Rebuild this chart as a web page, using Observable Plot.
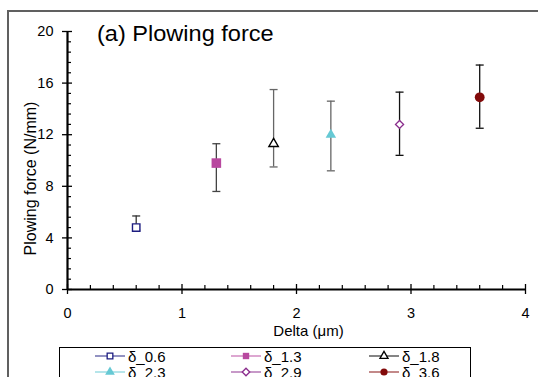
<!DOCTYPE html>
<html>
<head>
<meta charset="utf-8">
<script src="https://cdn.jsdelivr.net/npm/d3@7"></script>
<script src="https://cdn.jsdelivr.net/npm/@observablehq/plot@0.6"></script>
<style>
  html, body { margin: 0; padding: 0; background: #fff; }
  #wrap { position: relative; width: 538px; height: 377px; overflow: hidden; font-family: "Liberation Sans", Arial, sans-serif; }
  #frame { position: absolute; left: 7px; top: 10px; width: 600px; height: 500px; border-top: 2px solid #606060; border-left: 2px solid #606060; box-sizing: border-box; }
  #title { position: absolute; left: 97px; top: 21px; font-size: 22px; color: #000; white-space: nowrap; transform-origin: 0 0; transform: scaleX(1.07); }
  #chart { position: absolute; left: 0; top: 0; }
  #legend { position: absolute; left: 59px; top: 347px; width: 412px; height: 60px; border: 1px solid #000; box-sizing: border-box; background: #fff; }
  .item { position: absolute; display: flex; align-items: center; font-size: 15px; white-space: nowrap; }
  .item svg { margin-right: 3px; }
</style>
</head>
<body>
<div id="wrap">
  <div id="frame"></div>
  <div id="chart"></div>
  <div id="title">(a) Plowing force</div>
  <div id="legend"></div>
</div>
<script>
// ---- data ----
const series = ["δ_0.6", "δ_1.3", "δ_1.8", "δ_2.3", "δ_2.9", "δ_3.6"];
const delta = [0.6, 1.3, 1.8, 2.3, 2.9, 3.6];
const force = [4.8, 9.8, 11.3, 12.0, 12.8, 14.9];
const errLow = [4.6, 7.6, 9.5, 9.2, 10.4, 12.5];
const errHigh = [5.7, 11.3, 15.5, 14.6, 15.3, 17.4];
const yTicks = [0, 4, 8, 12, 16, 20];
const xTicks = [0, 1, 2, 3, 4];
const yLabel = "Plowing force (N/mm)";
const xLabel = "Delta (μm)";

// ---- styles ----
const colors = ["#1c1c80", "#b8489f", "#000000", "#66c9d4", "#8a2c8c", "#820a0a"];
const symbols = ["square", "square", "triangle", "triangle", "diamond2", "circle"];
const filled = [false, true, false, true, false, true];
const barColors = ["#333333", "#444444", "#666666", "#666666", "#111111", "#111111"];
const markR = [4.2, 5.4, 3.5, 3.9, 3.6, 4.9];
const legendR = [3.2, 3.6, 3.0, 3.6, 3.0, 3.6];

const rows = series.map((name, i) => ({name, delta: delta[i], force: force[i], lo: errLow[i], hi: errHigh[i]}));

const yMinor = d3.range(0, 20.001, 0.8).filter(v => !yTicks.some(t => Math.abs(t - v) < 1e-6));
const xMinor = d3.range(0, 4.001, 0.2).filter(v => !xTicks.some(t => Math.abs(t - v) < 1e-6));

const cap = {draw(ctx, size) { const w = Math.sqrt(size / Math.PI); ctx.moveTo(-w, 0); ctx.lineTo(w, 0); }};

const marks = [];
// error bars
rows.forEach((r, i) => {
  marks.push(Plot.ruleX([r], {x: "delta", y1: "lo", y2: "hi", stroke: barColors[i], strokeWidth: 1.3}));
  marks.push(Plot.dot([r], {x: "delta", y: "lo", symbol: cap, r: 4, stroke: barColors[i], strokeWidth: 1.3}));
  marks.push(Plot.dot([r], {x: "delta", y: "hi", symbol: cap, r: 4, stroke: barColors[i], strokeWidth: 1.3}));
});
// markers
rows.forEach((r, i) => {
  marks.push(Plot.dot([r], {x: "delta", y: "force", symbol: symbols[i], r: markR[i],
    fill: filled[i] ? colors[i] : "white", stroke: colors[i], strokeWidth: filled[i] ? 0 : 1.4}));
});

const chart = Plot.plot({
  width: 538,
  height: 347,
  marginLeft: 67,
  marginRight: 13,
  marginTop: 31,
  marginBottom: 58,
  style: {fontFamily: "'Liberation Sans', Arial, sans-serif", fontSize: "14px", color: "#000", background: "transparent", overflow: "visible"},
  x: {domain: [0, 4]},
  y: {domain: [0, 20]},
  marks: [
    // y axis
    Plot.axisY(yTicks, {tickSize: 5, tickPadding: 9, fontSize: 14.5, stroke: "#000", strokeWidth: 1.3, label: null, tickFormat: d3.format("d")}),
    Plot.axisY(yTicks, {tickSize: 5, dx: 5, text: null, label: null, stroke: "#000", strokeWidth: 1.3}),
    Plot.axisY(yMinor, {tickSize: 4, dx: 4, text: null, label: null, stroke: "#000", strokeWidth: 1.2}),
    // x axis
    Plot.axisX(xTicks, {tickSize: 5, tickPadding: 13, fontSize: 14.5, stroke: "#000", strokeWidth: 1.3, label: null, tickFormat: d3.format("d")}),
    Plot.axisX(xTicks, {tickSize: 5, dy: -5, text: null, label: null, stroke: "#000", strokeWidth: 1.3}),
    Plot.axisX(xMinor, {tickSize: 4, dy: -4, text: null, label: null, stroke: "#000", strokeWidth: 1.2}),
    Plot.ruleX([0], {stroke: "#000", strokeWidth: 2.2}),
    Plot.ruleY([0], {stroke: "#000", strokeWidth: 2.2}),
    // axis titles
    Plot.text([yLabel], {frameAnchor: "left", textAnchor: "middle", text: d => d, rotate: -90, dx: -37, dy: 18, fontSize: 16, fontWeight: "normal", fill: "#000"}),
    Plot.text([xLabel], {frameAnchor: "bottom", textAnchor: "middle", text: d => d, dx: 12, dy: 46, fontSize: 15, fontWeight: "normal", fill: "#000"}),
    ...marks
  ]
});
document.getElementById("chart").appendChild(chart);

// ---- legend ----
const legend = document.getElementById("legend");
const colX = [35, 171, 309];
const rowY = [8, 24];
const symPath = (i) => {
  const size = legendR[i] * legendR[i] * Math.PI;
  const typeMap = {square: d3.symbolSquare, triangle: d3.symbolTriangle, diamond2: d3.symbolSquare, circle: d3.symbolCircle};
  return d3.symbol(typeMap[symbols[i]], size)();
};
series.forEach((name, i) => {
  const div = document.createElement("div");
  div.className = "item";
  div.style.left = colX[i % 3] + "px";
  div.style.top = (rowY[Math.floor(i / 3)] - 9) + "px";
  const rot = symbols[i] === "diamond2" ? ' transform="translate(15,9) rotate(45)"' : ' transform="translate(15,9)"';
  div.innerHTML = `<svg width="30" height="18"><line x1="0" x2="30" y1="9" y2="9" stroke="${colors[i]}" stroke-opacity="0.6" stroke-width="1.6"/>` +
    `<path d="${symPath(i)}"${rot} fill="${filled[i] ? colors[i] : "white"}" stroke="${filled[i] ? "none" : colors[i]}" stroke-width="1.3"/></svg><span>${name}</span>`;
  legend.appendChild(div);
});
</script>
</body>
</html>
